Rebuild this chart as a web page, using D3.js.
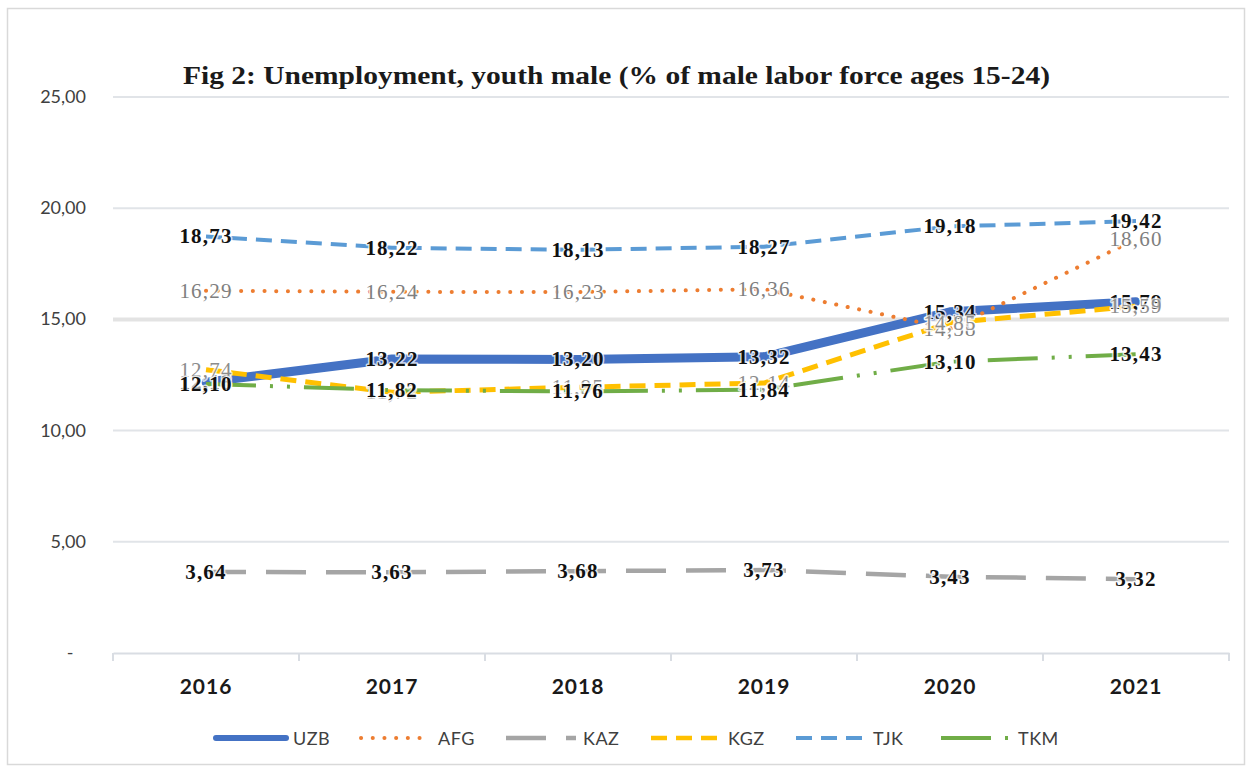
<!DOCTYPE html>
<html><head><meta charset="utf-8">
<script src="https://cdn.jsdelivr.net/npm/d3@7"></script>
<style>body{margin:0;background:#fff}svg{display:block}</style>
</head><body>
<svg id="c" width="1252" height="771"></svg>
<script>
const years = ["2016","2017","2018","2019","2020","2021"];
const UZB = [12.18, 13.22, 13.20, 13.32, 15.34, 15.79];
const AFG = [16.29, 16.24, 16.23, 16.36, 14.58, 18.60];
const KAZ = [3.64, 3.63, 3.68, 3.73, 3.43, 3.32];
const KGZ = [12.74, 11.72, 11.95, 12.14, 14.85, 15.59];
const TJK = [18.73, 18.22, 18.13, 18.27, 19.18, 19.42];
const TKM = [12.10, 11.82, 11.76, 11.84, 13.10, 13.43];
const yTicks = [0, 5, 10, 15, 20, 25];
const seriesNames = ["UZB","AFG","KAZ","KGZ","TJK","TKM"];
const title = "Fig 2: Unemployment, youth male (% of male labor force ages 15-24)";

const styles = {
  UZB:{color:"#4472C4", w:9, dash:null, cap:"round", lab:"#111", bold:true},
  AFG:{color:"#ED7D31", w:4, dash:"0.1,11.6", cap:"round", lab:"#7f7f7f", bold:false},
  KAZ:{color:"#A5A5A5", w:4.5, dash:"40,20", cap:"butt", lab:"#111", bold:true},
  KGZ:{color:"#FFC000", w:5, dash:"16,9", cap:"butt", lab:"#8c8c8c", bold:false},
  TJK:{color:"#5B9BD5", w:4, dash:"16,9", cap:"butt", lab:"#111", bold:true},
  TKM:{color:"#70AD47", w:4, dash:"50,14,3,14,3,14", cap:"butt", lab:"#111", bold:true}
};
const data = {UZB, AFG, KAZ, KGZ, TJK, TKM};
const fmt = v => v.toFixed(2).replace(".", ",");

const svg = d3.select("#c");
svg.append("rect").attr("x",7.5).attr("y",8.5).attr("width",1237).attr("height",756)
  .attr("fill","#fff").attr("stroke","#d9d9d9").attr("stroke-width",1.5);

const x = d3.scaleBand().domain(years).range([113, 1229]).padding(0);
const y = d3.scaleLinear().domain([0, 25]).range([653, 97]);
const cx = d => x(d) + x.bandwidth()/2;

// gridlines
svg.append("g").selectAll("line").data(yTicks.filter(t => t > 0)).join("line")
  .attr("x1",113).attr("x2",1229).attr("y1",d=>y(d)).attr("y2",d=>y(d))
  .attr("stroke", d => d===15 ? "#e3e3e3" : "#e1e4e8")
  .attr("stroke-width", d => d===15 ? 4 : 2);

// y tick labels
svg.append("g").selectAll("text").data(yTicks).join("text")
  .attr("x", d => d===0 ? 70 : 86).attr("y", d => y(d) + 6)
  .attr("text-anchor", d => d===0 ? "middle" : "end")
  .attr("font-family","Lato, sans-serif").attr("font-size",18).attr("fill","#404040")
  .text(d => d===0 ? "-" : fmt(d));

// x axis
const xAxis = d3.axisBottom(x).tickSize(0).tickFormat("");
const gx = svg.append("g").attr("transform","translate(0,653)").call(xAxis);
gx.select(".domain").attr("stroke","#d9dde3").attr("stroke-width",2);
const bounds = years.map(d => x(d)).concat([x(years[years.length-1]) + x.bandwidth()]);
svg.append("g").selectAll("line").data(bounds).join("line")
  .attr("x1",d=>d).attr("x2",d=>d).attr("y1",653).attr("y2",661)
  .attr("stroke","#d9dde3").attr("stroke-width",2);
svg.append("g").selectAll("text").data(years).join("text")
  .attr("x", d => cx(d)).attr("y", 694).attr("text-anchor","middle")
  .attr("font-family","Lato, sans-serif").attr("font-weight","bold").attr("font-size",21)
  .attr("letter-spacing",1).attr("fill","#1a1a1a").text(d => d);

// lines
const line = d3.line().x((v,i) => cx(years[i])).y(v => y(v));
seriesNames.forEach(n => {
  const s = styles[n];
  svg.append("path").attr("d", line(data[n])).attr("fill","none")
    .attr("stroke", s.color).attr("stroke-width", s.w)
    .attr("stroke-dasharray", s.dash).attr("stroke-linecap", s.cap)
    .attr("stroke-linejoin","round");
});

// data labels (with a light halo that cuts the lines as in the source)
seriesNames.forEach(n => {
  const s = styles[n];
  svg.append("g").selectAll("text").data(data[n]).join("text")
    .attr("x", (v,i) => cx(years[i])).attr("y", v => y(v) + 7)
    .attr("text-anchor","middle")
    .attr("font-family","'Liberation Serif', 'Times New Roman', serif")
    .attr("font-size",21).attr("letter-spacing",1.2)
    .attr("font-weight", s.bold ? "bold" : "normal")
    .attr("stroke","rgba(255,255,255,0.75)").attr("stroke-width",3)
    .attr("paint-order","stroke").attr("stroke-linejoin","round")
    .attr("fill", s.lab).text(v => fmt(v));
});

// title
svg.append("text").attr("x",183).attr("y",84)
  .attr("font-family","'Liberation Serif', 'Times New Roman', serif")
  .attr("font-weight","bold").attr("font-size",26).attr("fill","#1a1a1a")
  .attr("textLength",867).attr("lengthAdjust","spacingAndGlyphs").text(title);

// legend
const lx = d3.scalePoint().domain(seriesNames).range([216, 941]);
const lg = svg.append("g").selectAll("g").data(seriesNames).join("g")
  .attr("transform", d => `translate(${lx(d)},738)`);
lg.append("line").attr("x1",0).attr("x2",70).attr("y1",0).attr("y2",0)
  .attr("stroke", d => styles[d].color)
  .attr("stroke-width", d => d==="UZB" ? 6 : Math.min(styles[d].w, 4.5))
  .attr("stroke-dasharray", d => styles[d].dash)
  .attr("stroke-linecap", d => styles[d].cap);
lg.append("text").attr("x",77).attr("y",7)
  .attr("font-family","Lato, sans-serif").attr("font-size",18).attr("letter-spacing",0.5)
  .attr("fill","#404040").text(d => d);
</script>
</body></html>
